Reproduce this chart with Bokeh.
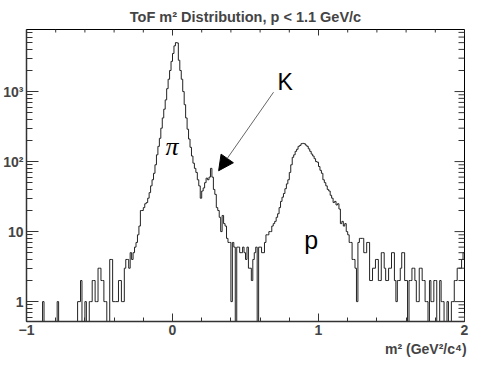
import numpy as np
from bokeh.plotting import figure
from bokeh.models import (FixedTicker, Label, Arrow, NormalHead, Title, Range1d)
from bokeh.embed import file_html
from bokeh.resources import INLINE

# ---------------- data ----------------
BIN_LO = -1.0
BIN_WIDTH = 0.01   # 300 bins from -1 to 2

counts_left_tail = [  # m2 -1.00 .. -0.31
    0, 0, 0, 0, 0, 0, 0, 0, 0, 0,
    0, 1, 0, 0, 0, 0, 0, 0, 0, 0,
    0, 1, 0, 0, 0, 0, 0, 0, 0, 0,
    0, 0, 0, 0, 0, 1, 1, 2, 0, 0,
    1, 0, 0, 1, 1, 2, 2, 1, 1, 3,
    3, 2, 2, 1, 1, 0, 0, 4, 4, 1,
    1, 1, 1, 2, 2, 1, 1, 3, 4, 4,
]
counts_pion = [  # m2 -0.30 .. 0.19
    3, 5, 4, 5, 6, 7, 9, 12, 20, 20,
    22, 25, 26, 30, 36, 45, 55, 68, 90, 125,
    165, 215, 300, 420, 560, 760, 1100, 1500, 2000, 2700,
    3500, 4500, 5000, 4950, 2800, 2000, 1500, 1000, 650, 420,
    290, 210, 160, 120, 95, 80, 70, 55, 45, 30,
]
counts_kaon_valley = [  # m2 0.20 .. 0.69
    38, 42, 50, 58, 55, 60, 80, 60, 40, 34,
    22, 20, 16, 10, 17, 13, 12, 8, 7, 7,
    1, 7, 6, 0, 6, 6, 5, 5, 6, 5,
    4, 6, 3, 3, 2, 4, 5, 6, 0, 6,
    6, 5, 5, 7, 9, 9, 10, 10, 12, 13,
]
counts_proton = [  # m2 0.70 .. 1.19
    14, 16, 18, 22, 27, 31, 35, 41, 48, 55,
    70, 90, 115, 125, 140, 150, 165, 170, 180, 182,
    180, 172, 165, 152, 140, 128, 120, 110, 100, 98,
    85, 75, 68, 55, 50, 45, 40, 38, 33, 30,
    26, 27, 24, 25, 21, 13, 14, 12, 13, 10,
]
counts_right_tail = [  # m2 1.20 .. 1.99
    9, 7, 7, 4, 4, 3, 1, 7, 8, 8,
    8, 5, 5, 7, 7, 2, 2, 3, 3, 4,
    4, 2, 2, 5, 5, 3, 2, 2, 3, 3,
    5, 5, 2, 1, 2, 2, 3, 5, 5, 2,
    2, 0, 2, 2, 3, 3, 2, 1, 1, 3,
    3, 2, 2, 1, 1, 0, 2, 1, 1, 2,
    2, 0, 0, 2, 1, 1, 0, 0, 1, 0,
    0, 1, 1, 2, 2, 3, 3, 3, 4, 5,
]

X_MIN, X_MAX = -1.0, 2.0
Y_MIN, Y_MAX = 0.52, 7700.0

x_major_ticks = [-1, 0, 1, 2]
x_minor_ticks = [-0.8, -0.6, -0.4, -0.2, 0.2, 0.4, 0.6, 0.8,
                 1.2, 1.4, 1.6, 1.8]
y_major_ticks = [1, 10, 100, 1000]
y_major_labels = ["1", "10", "10\u00b2", "10\u00b3"]
y_minor_ticks = [0.6, 0.7, 0.8, 0.9,
                 2, 3, 4, 5, 6, 7, 8, 9,
                 20, 30, 40, 50, 60, 70, 80, 90,
                 200, 300, 400, 500, 600, 700, 800, 900,
                 2000, 3000, 4000, 5000, 6000, 7000]

title_text = "ToF m\u00b2 Distribution, p < 1.1 GeV/c"
x_title = "m\u00b2  (GeV\u00b2/c\u2074)"

# annotation anchors (data coordinates)
pi_label = dict(text="\u03c0", x=-0.003, y=164)
k_label = dict(text="K", x=0.772, y=1380)
p_label = dict(text="p", x=0.95, y=7.5)
k_arrow = dict(x_start=0.692, y_start=979, x_end=0.316, y_end=74)

# ---------------- figure ----------------
counts = np.array(counts_left_tail + counts_pion + counts_kaon_valley
                  + counts_proton + counts_right_tail, dtype=float)
nbins = len(counts)
edges = BIN_LO + BIN_WIDTH * np.arange(nbins + 1)
plot_vals = np.where(counts > 0, counts, 1e-3)
step_y = np.append(plot_vals, plot_vals[-1])

FONT = "Liberation Sans"
AX = "#333333"

p = figure(width=499, height=372, y_axis_type="log",
           x_range=Range1d(X_MIN, X_MAX), y_range=Range1d(Y_MIN, Y_MAX),
           output_backend="svg", toolbar_location=None,
           min_border_left=25, min_border_right=35,
           min_border_top=29, min_border_bottom=51)
p.xgrid.visible = False
p.ygrid.visible = False
p.outline_line_color = "black"
p.outline_line_width = 1
p.background_fill_color = "white"
p.border_fill_color = "white"

p.title.text = title_text
p.title.text_font = FONT
p.title.text_font_style = "bold"
p.title.text_font_size = "14.5px"
p.title.align = "center"
p.title.standoff = 10
p.title.offset = 4

p.step(edges, step_y, mode="after", line_color="#222222", line_width=1)

# mirrored ticks on top and right frame edges (ROOT style)
PX_PER_DECADE = 70.0
PX_PER_UNIT_X = 146.3
top_major_len, top_minor_len = 6, 3
right_major_len, right_minor_len = 10, 6
tx = x_major_ticks + x_minor_ticks
tlen = [top_major_len] * len(x_major_ticks) + [top_minor_len] * len(x_minor_ticks)
p.segment(x0=tx, y0=[Y_MAX] * len(tx), x1=tx,
          y1=[Y_MAX / 10 ** (l / PX_PER_DECADE) for l in tlen],
          line_color=AX, line_width=1)
ry = y_major_ticks + y_minor_ticks
rlen = [right_major_len] * len(y_major_ticks) + [right_minor_len] * len(y_minor_ticks)
p.segment(x0=[X_MAX] * len(ry), y0=ry, x1=[X_MAX - l / PX_PER_UNIT_X for l in rlen],
          y1=ry, line_color=AX, line_width=1)

# bottom x axis
xa = p.xaxis[0]
xa.ticker = FixedTicker(ticks=x_major_ticks, minor_ticks=x_minor_ticks)
xa.major_tick_in = 8
xa.major_tick_out = 0
xa.minor_tick_in = 4
xa.minor_tick_out = 0
xa.axis_line_color = AX
xa.axis_line_width = 1.5
xa.major_tick_line_color = AX
xa.minor_tick_line_color = AX
xa.major_label_text_font = FONT
xa.major_label_text_font_style = "bold"
xa.major_label_text_font_size = "14px"
xa.major_label_standoff = 3

# left y axis
ya = p.yaxis[0]
ya.ticker = FixedTicker(ticks=y_major_ticks, minor_ticks=y_minor_ticks)
ya.major_label_overrides = {float(t): l for t, l in zip(y_major_ticks, y_major_labels)}
ya.major_tick_in = 12
ya.major_tick_out = 0
ya.minor_tick_in = 6
ya.minor_tick_out = 0
ya.axis_line_color = AX
ya.axis_line_width = 1.5
ya.major_tick_line_color = AX
ya.minor_tick_line_color = AX
ya.major_label_text_font = FONT
ya.major_label_text_font_style = "bold"
ya.major_label_text_font_size = "14px"
ya.major_label_standoff = 3

# x axis title, right aligned
p.add_layout(Title(text=x_title, align="right", text_font=FONT,
                   text_font_style="bold", text_font_size="14px",
                   standoff=2, offset=-6), "below")

# annotations
p.add_layout(Label(x=pi_label["x"], y=pi_label["y"], text=pi_label["text"],
                   text_align="center", text_baseline="alphabetic",
                   text_font="Liberation Serif", text_font_style="italic",
                   text_font_size="26px", text_color="black"))
p.add_layout(Label(x=k_label["x"], y=k_label["y"], text=k_label["text"],
                   text_align="center", text_baseline="alphabetic",
                   text_font=FONT, text_font_size="23px", text_color="black"))
p.add_layout(Label(x=p_label["x"], y=p_label["y"], text=p_label["text"],
                   text_align="center", text_baseline="alphabetic",
                   text_font=FONT, text_font_size="25px", text_color="black"))
p.add_layout(Arrow(end=NormalHead(size=15, fill_color="black", line_color="black"),
                   line_color="#666666", line_width=1, **k_arrow))

open("out.html", "w").write(file_html(p, INLINE))
